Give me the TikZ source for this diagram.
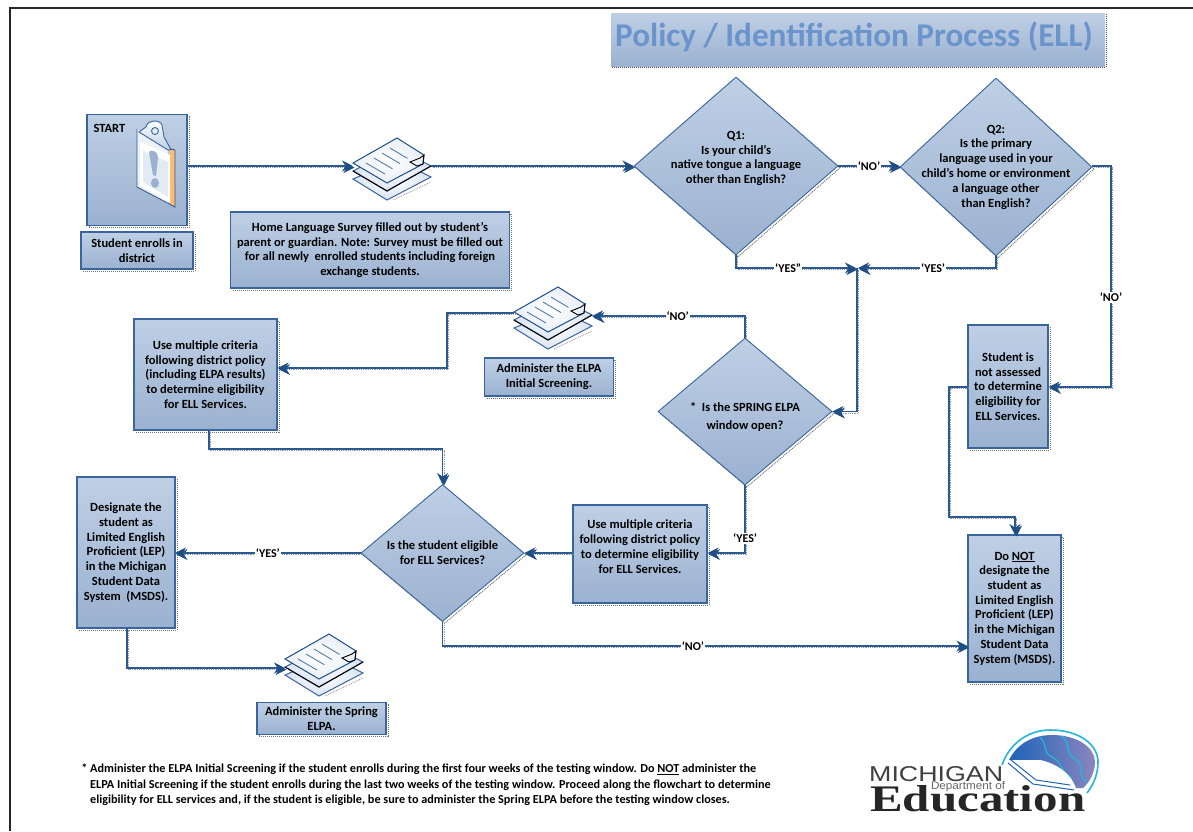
\documentclass[tikz,border=0pt]{standalone}
\usepackage{fontspec}
\setmainfont{Carlito}
\newfontfamily\logosans{Liberation Sans}
\newfontfamily\logoserif{Liberation Serif}
\usetikzlibrary{shapes.geometric,arrows.meta,shadings}
\definecolor{edgeblue}{HTML}{3A649C}
\definecolor{linkblue}{HTML}{2A5A95}
\definecolor{tipblue}{HTML}{1F4E86}
\definecolor{boxtop}{HTML}{BFD0E5}
\definecolor{boxbot}{HTML}{9AB1D0}
\definecolor{titleblue}{HTML}{6C94CC}
\definecolor{logoblue}{HTML}{1E63B8}
\definecolor{logocyan}{HTML}{25B4DC}
\definecolor{logomauve}{HTML}{8A86BE}
\tikzset{
  dotshadow/.style={preaction={draw=black!55,densely dotted,line width=1pt,transform canvas={xshift=2pt,yshift=-2pt}}},
  boxbase/.style={draw=edgeblue,line width=1.1pt,top color=boxtop,bottom color=boxbot,inner sep=0pt,dotshadow},
  flowbox/.style={boxbase,rectangle,align=center,font=\bfseries\fontsize{12.5}{14.7}\selectfont},
  flowdia/.style={boxbase,diamond,line width=0.9pt},
  dialabel/.style={align=center,font=\bfseries\fontsize{12.5}{14.8}\selectfont,inner sep=0pt},
  link/.style={draw=linkblue,line width=1.3pt,line join=miter},
  linkshadow/.style={preaction={draw=black!40,densely dotted,line width=.8pt,transform canvas={xshift=1.5pt,yshift=-1.5pt}}},
  arrowlink/.style={link,linkshadow,-{Stealth[length=11pt,width=11pt,color=tipblue]}},
  flag/.style={fill=white,inner sep=1pt,font=\bfseries\fontsize{12}{13}\selectfont},
  slot/.style={rectangle,inner sep=0pt,outer sep=0pt},
  docstack/.pic={
    \path[draw=edgeblue,line width=1pt,inner color=white,outer color=boxtop!60] (0,41) -- (34,62) -- (78,39) -- (44,22) -- cycle;
    \draw[black!45,densely dotted,line width=.8pt] (40,62) -- (78,44);
    \path[draw=edgeblue,line width=1pt,inner color=white,outer color=boxtop!60] (0,33) -- (34,53) -- (78,28) -- (44,10) -- cycle;
    \path[draw=black,line width=1pt] (0,33) -- (34,53) -- (78,28);
    \path[draw=tipblue,line width=1pt,inner color=white,outer color=boxtop!35] (0,25) -- (44,0) -- (71,17) -- (70,26) -- (34,45) -- cycle;
    \draw[black,line width=.9pt] (71,17) -- (70,26) -- (64,28) -- (57,24) -- (67,20) -- cycle;
    \foreach \i in {0,1,2,3}{
      \draw[edgeblue!85,line width=.9pt] (13+\i*8,25-\i*5) -- (32+\i*7.5,36-\i*5.2);
    }
  }
}
\begin{document}
\begin{tikzpicture}[x=1pt,y=-1pt]
\useasboundingbox (0,0) rectangle (1193,831);
\fill[white] (0,0) rectangle (1193,831);
% page frame
\draw[black!85,line width=2.6pt] (10,831) -- (10,8) -- (1193,8);
% title
\node[rectangle,inner sep=0pt,top color=boxtop,bottom color=boxbot,minimum width=494,minimum height=53,
  preaction={draw=black!70,densely dotted,line width=1pt,transform canvas={xshift=1pt,yshift=-1pt}},
  label={[inner sep=0pt,text=titleblue,font=\bfseries\fontsize{33.2}{36}\selectfont,xshift=-4pt,yshift=3pt]center:Policy / Identification Process (ELL)}] (title) at (858,39.5) {};

% boxes
\node[flowbox,minimum width=100,minimum height=111] (start) at (137,170) {};
\node[anchor=center,inner sep=0pt,font=\bfseries\fontsize{12.5}{14}\selectfont] (startlabel) at (109.5,128) {START};
\node[flowbox,minimum width=112,minimum height=37] (enroll) at (137,250.5) {Student enrolls in\\district};
\node[flowbox,minimum width=279,minimum height=76] (survey) at (370,250) {Home Language Survey filled out by student’s\\parent or guardian. Note: Survey must be filled out\\for all newly \ enrolled students including foreign\\exchange students.};
\node[flowbox,minimum width=143,minimum height=111] (usea) at (205.5,374.5) {Use multiple criteria\\following district policy\\(including ELPA results)\\to determine eligibility\\for ELL Services.};
\node[flowbox,minimum width=129,minimum height=38] (elpa) at (549,377) {Administer the ELPA\\Initial Screening.};
\node[flowbox,minimum width=134,minimum height=98,
  label={[dialabel,yshift=7.5pt]center:Use multiple criteria\\following district policy\\to determine eligibility\\for ELL Services.}] (useb) at (640,554) {};
\node[flowbox,minimum width=98,minimum height=151] (lep) at (126,552.5) {Designate the\\student as\\Limited English\\Proficient (LEP)\\in the Michigan\\Student Data\\System \ (MSDS).};
\node[flowbox,minimum width=129,minimum height=32] (spring) at (321.5,718.5) {Administer the Spring\\ELPA.};
\node[flowbox,minimum width=80,minimum height=123] (notass) at (1008,386.5) {Student is\\not assessed\\to determine\\eligibility for\\ELL Services.};
\node[flowbox,minimum width=93,minimum height=147] (donot) at (1014.5,608.5) {Do \underline{NOT}\\designate the\\student as\\Limited English\\Proficient (LEP)\\in the Michigan\\Student Data\\System (MSDS).};

% diamonds
\node[flowdia,minimum width=204,minimum height=178,
  label={[dialabel,yshift=7.5pt]center:Q1:\\Is your child’s\\native tongue a language\\other than English?}] (q1) at (736,166) {};
\node[flowdia,minimum width=192,minimum height=178,
  label={[dialabel]center:Q2:\\Is the primary\\language used in your\\child’s home or environment\\a language other\\than English?}] (q2) at (996,167) {};
\node[flowdia,minimum width=174,minimum height=147,
  label={[dialabel,yshift=-5.5pt,align=center,font=\bfseries\fontsize{12.5}{18}\selectfont]center:*\ \ Is the SPRING ELPA\\window open?}] (window) at (745,411.5) {};
\node[flowdia,minimum width=163,minimum height=137,
  label={[dialabel]center:Is the student eligible\\for ELL Services?}] (elig) at (442.5,553) {};

% clipboard
\fill[white!70!boxtop] (137,129) -- (168,148) -- (168,204) -- (137,187) -- cycle;
\fill[orange!55!white] (170,149) -- (175,150) -- (175,207) -- (170,204) -- cycle;
\draw[edgeblue!90!black,line width=.9pt] (137,129) -- (137,187) -- (175,207) -- (175,150) -- (171,149);
\fill[white] (140,142) -- (170,155) -- (170,203) -- (140,185) -- cycle;
\fill[boxtop!45!white] (143,151) -- (168,162) -- (168,197) -- (143,182) -- cycle;
\fill[boxbot] (149,152) .. controls (150,149) and (158,151) .. (158,157) -- (156,176) -- (153,175) -- cycle;
\fill[boxbot] (155,183) ellipse[x radius=4,y radius=5];
\draw[edgeblue,line width=.9pt,top color=white,bottom color=boxtop] (139,132) -- (146,127) .. controls (147,120) and (160,119) .. (162,125) -- (164,137) -- (171,149.5) -- (168,150) -- cycle;
\draw[edgeblue,line width=.9pt,fill=white!60!boxtop] (155,131) circle[radius=3.5];

% document stacks
\node[slot,minimum width=78,minimum height=63] (doca) at (392,169.5) {};
\node[slot,minimum width=78,minimum height=62] (docb) at (553,318) {};
\node[slot,minimum width=78,minimum height=63] (docc) at (324,665.5) {};
\pic at (doca.north west) {docstack};
\pic at (docb.north west) {docstack};
\pic at (docc.north west) {docstack};

% helper points
\coordinate (jn) at (857,268);
\coordinate (bout) at (514,313);
\coordinate (bin) at (592,316);
\coordinate (cin) at (285,668);
\coordinate (a1) at (447,313);
\coordinate (a2) at (447,368);
\coordinate (b1) at (209,430);
\coordinate (b2) at (209,449);
\coordinate (b3) at (442.5,449);
\coordinate (c1) at (127,628);
\coordinate (c2) at (127,668);
\coordinate (e1) at (442.5,646);
\coordinate (n1) at (1111,166);
\coordinate (n2) at (1111,387);
\coordinate (s1) at (949,387);
\coordinate (s2) at (949,517);
\coordinate (s3) at (1015,517);
\coordinate (s4) at (1015,535);
\coordinate (t1) at (745,316);
\coordinate (y1) at (745,553);
\coordinate (lepin) at (175,553);
\coordinate (ubout) at (572,553);

% connectors
\draw[arrowlink,line width=1.6pt] (start.east |- q1.west) -- (doca.west |- q1.west);
\draw[arrowlink,line width=1.6pt] (doca.east |- q1.west) -- (q1.west);
\draw[arrowlink] (q1.east) -- node[flag] (nolabel) {‘NO’} (q2.west |- q1.east);
\draw[arrowlink] (q1.south) |- node[flag,pos=.717] (yesa) {‘YES”} (856,268);
\draw[arrowlink] (q2.south) |- node[flag,pos=.728] (yesb) {‘YES’} (858,268);
\draw[arrowlink] (jn) -- (jn |- window.east) -- (window.east);
\draw[arrowlink] (window.north) -- (t1) -- node[flag,pos=.44] (noc) {‘NO’} (bin);
\draw[arrowlink] (bout) -- (a1) -- (a2) -- (usea.east |- a2);
\draw[arrowlink] (b1) -- (b2) -- (b3) -- (elig.north);
\draw[arrowlink] (window.south) -- node[flag,pos=.78] (yesc) {‘YES’} (y1) -- (useb.east |- y1);
\draw[arrowlink,line width=1.6pt] (ubout) -- (elig.east);
\draw[arrowlink,line width=1.6pt] (elig.west) -- node[flag,pos=.5] (yesd) {‘YES’} (lepin);
\draw[arrowlink] (c1) -- (c2) -- (cin);
\draw[arrowlink] (elig.south) -- (e1) -- node[flag,pos=.477] (nod) {‘NO’} (donot.west |- e1);
\draw[arrowlink] (q2.east |- n1) -- (n1) -- node[flag,pos=.593] (noe) {‘NO’} (n2) -- (notass.east |- n2);
\draw[arrowlink] (notass.west |- s1) -- (s1) -- (s2) -- (s3) -- (s4);

% footnote
\node[anchor=north west,align=left,inner sep=0pt,font=\bfseries\fontsize{12.2}{15.2}\selectfont] (note) at (90,764) {\llap{*\ }Administer the ELPA Initial Screening if the student enrolls during the first four weeks of the testing window. Do \underline{NOT} administer the\\ELPA Initial Screening if the student enrolls during the last two weeks of the testing window. Proceed along the flowchart to determine\\eligibility for ELL services and, if the student is eligible, be sure to administer the Spring ELPA before the testing window closes.};

% logo
\draw[logocyan,line width=1.6pt] (1002,765) .. controls (1010,742) and (1030,730) .. (1050,730) .. controls (1080,730) and (1098,745) .. (1098,762) .. controls (1098,775) and (1093,785) .. (1087,793);
\shade[left color=logoblue,right color=logomauve] (1009,760) .. controls (1018,742) and (1035,735) .. (1052,735) .. controls (1078,735) and (1095,748) .. (1095,762) .. controls (1095,772) and (1090,782) .. (1083,788) -- (1075,788) .. controls (1068,770) and (1050,762) .. (1040,760) -- cycle;
\draw[logocyan,line width=1.3pt] (1040,737) .. controls (1048,745) and (1042,752) .. (1052,757) .. controls (1064,763) and (1058,770) .. (1072,778);
\draw[logocyan,line width=1.3pt] (1062,736) .. controls (1072,746) and (1064,752) .. (1074,758) .. controls (1086,765) and (1076,772) .. (1086,782);
\fill[white] (1012,760) -- (1040,760) .. controls (1055,763) and (1070,772) .. (1076,788) -- (1036,779) -- cycle;
\draw[logoblue,line width=1pt] (1008,763) -- (1033,784) -- (1074,790);
\draw[logoblue,line width=1pt] (1011,760) -- (1036,780) -- (1070,785);
\node[inner sep=0pt,anchor=west,text=black!75] (logomich) at (869,774.5) {\resizebox{134pt}{15pt}{\logosans MICHIGAN}};
\node[inner sep=0pt,anchor=south west,text=black!85] (logoedu) at (870,812) {\resizebox{215pt}{26pt}{\logoserif\bfseries Education}};
\node[inner sep=0pt,text=black!60] (logodept) at (968,787) {\resizebox{74pt}{8pt}{\logosans Department of}};
\end{tikzpicture}
\end{document}
